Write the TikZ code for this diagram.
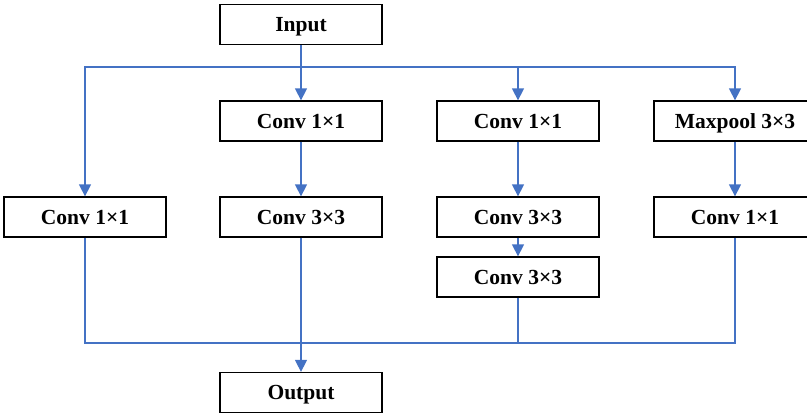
\documentclass[tikz,border=0pt]{standalone}
\usepackage{fontspec}
\setmainfont{Liberation Serif}
\usetikzlibrary{arrows.meta}
\definecolor{lineblue}{HTML}{4472C4}
\begin{document}
\begin{tikzpicture}[x=1pt, y=-1pt]

\tikzstyle{box}=[rectangle, draw, line width=1.3pt, minimum width=162pt, minimum height=40pt, inner sep=0pt, text height=16pt, text depth=2pt, font=\fontsize{21.5}{25}\selectfont\bfseries]
\tikzstyle{arrow}=[->, >={Triangle[length=12pt, width=12pt]}, draw=lineblue, line width=1.5pt]
\tikzstyle{line}=[draw=lineblue, line width=1.5pt]

\useasboundingbox (0,0) rectangle (807,415);

\node (In)  [box] at (301, 24.5) {Input};

\node (C2a) [box] at (301, 121) {Conv 1×1};
\node (C3a) [box] at (518, 121) {Conv 1×1};
\node (MP)  [box] at (735, 121) {Maxpool 3×3};

\node (C1)  [box] at (85, 217)  {Conv 1×1};
\node (C2b) [box] at (301, 217) {Conv 3×3};
\node (C3b) [box] at (518, 217) {Conv 3×3};
\node (C4b) [box] at (735, 217) {Conv 1×1};

\node (C3c) [box] at (518, 277) {Conv 3×3};

\node (Out) [box] at (301, 392.5) {Output};

\coordinate (top) at (301, 67);
\coordinate (bot) at (301, 343);

\draw [arrow] (In) -- (C2a);
\draw [arrow] (top) -| (C1);
\draw [arrow] (top) -| (C3a);
\draw [arrow] (top) -| (MP);

\draw [arrow] (C2a) -- (C2b);
\draw [arrow] (C3a) -- (C3b);
\draw [arrow] (C3b) -- (C3c);
\draw [arrow] (MP) -- (C4b);

\draw [line] (C1) |- (bot);
\draw [line] (C3c) |- (bot);
\draw [line] (C4b) |- (bot);
\draw [arrow] (C2b) -- (Out);

\end{tikzpicture}
\end{document}
